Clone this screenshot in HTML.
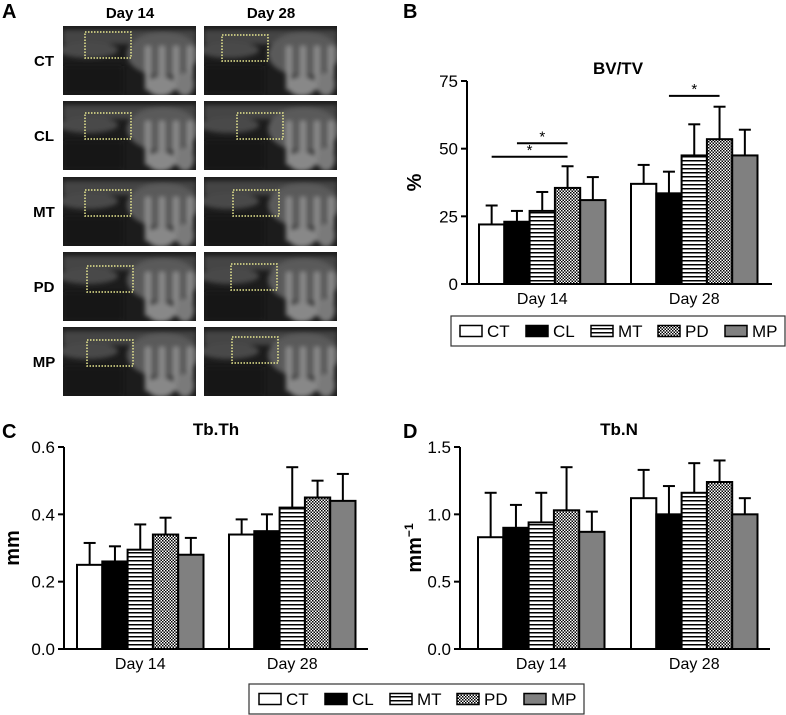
<!DOCTYPE html>
<html><head><meta charset="utf-8"><style>
body{margin:0;background:#fff;font-family:"Liberation Sans",Arial,sans-serif}
svg{display:block}
</style></head><body>
<svg id="fig" width="786" height="715" viewBox="0 0 786 715" xmlns="http://www.w3.org/2000/svg" font-family="Liberation Sans, Arial, sans-serif">
<defs>
<pattern id="stripe" width="4" height="4" patternUnits="userSpaceOnUse"><rect width="4" height="4" fill="#fff"/><rect y="0" width="4" height="1.5" fill="#000"/></pattern>
<pattern id="check" width="3" height="3" patternUnits="userSpaceOnUse"><rect width="3" height="3" fill="#fff"/><rect width="1.5" height="1.5" fill="#000"/><rect x="1.5" y="1.5" width="1.5" height="1.5" fill="#000"/></pattern>
<filter id="blur"><feGaussianBlur stdDeviation="2.5"/></filter>
<clipPath id="tileclip"><rect width="133" height="69"/></clipPath>
</defs>
<g id="panelA"></g>
<g id="panelB"></g>
<g id="panelC"></g>
<g id="panelD"></g>
<g id="legends"></g>
</svg>
<script>
const groups = ["Day 14", "Day 28"];
const seriesNames = ["CT", "CL", "MT", "PD", "MP"];
const bvtvMeans = [[22, 23, 27, 35.5, 31], [37, 33.5, 47.5, 53.5, 47.5]];
const bvtvErr = [[29, 27, 34, 43.5, 39.5], [44, 41.5, 59, 65.5, 57]];
const bvtvTicks = [0, 25, 50, 75];
const tbthMeans = [[0.25, 0.26, 0.295, 0.34, 0.28], [0.34, 0.35, 0.42, 0.45, 0.44]];
const tbthErr = [[0.315, 0.305, 0.37, 0.39, 0.33], [0.385, 0.40, 0.54, 0.50, 0.52]];
const tbthTicks = ["0.0", "0.2", "0.4", "0.6"];
const tbnMeans = [[0.83, 0.90, 0.94, 1.03, 0.87], [1.12, 1.0, 1.16, 1.24, 1.0]];
const tbnErr = [[1.16, 1.07, 1.16, 1.35, 1.02], [1.33, 1.21, 1.38, 1.40, 1.12]];
const tbnTicks = ["0.0", "0.5", "1.0", "1.5"];
const sigBars = [[0, 0, 3, 47], [0, 1, 3, 52], [1, 1, 3, 69.5]];

const NS = "http://www.w3.org/2000/svg";
const fills = ["#fff", "#000", "url(#stripe)", "url(#check)", "#808080"];
function el(tag, attrs, parent, text) {
  const e = document.createElementNS(NS, tag);
  for (const k in attrs) e.setAttribute(k, attrs[k]);
  if (text !== undefined) e.textContent = text;
  parent.appendChild(e);
  return e;
}
function chart(g, cfg) {
  const y = v => cfg.y0 - (v - cfg.vmin) / (cfg.vmax - cfg.vmin) * (cfg.y0 - cfg.y1);
  const bw = 25.3;
  const t = el("text", {x: cfg.titleX, y: cfg.titleY, "font-size": 17, "font-weight": "bold", "text-anchor": "middle"}, g, cfg.title);
  
  
  const lab = el("text", {x: cfg.panelX, y: cfg.panelY, "font-size": 20, "font-weight": "bold"}, g, cfg.panel);
  
  
  const ax = el("g", {}, g);
  
  
  el("line", {x1: cfg.ax, x2: cfg.ax, y1: cfg.y1, y2: cfg.y0, stroke: "#000", "stroke-width": 2}, ax);
  cfg.ticks.forEach(tk => {
    const yy = y(parseFloat(tk));
    el("line", {x1: cfg.ax - 6, x2: cfg.ax, y1: yy, y2: yy, stroke: "#000", "stroke-width": 2}, ax);
    const tt = el("text", {x: cfg.ax - 9, y: yy + 6, "font-size": 17, "text-anchor": "end"}, ax, tk);
    
    
  });
  const yt = el("text", {transform: `translate(${cfg.ytX},${(cfg.y0 + cfg.y1) / 2}) rotate(-90)`, "font-size": 20, "font-weight": "bold", "text-anchor": "middle"}, g, cfg.ytitle);
  
  
  if (cfg.sup) el("tspan", {"font-size": 12, dy: -8}, yt, cfg.sup);
  const xa = el("line", {x1: cfg.ax - 6, x2: cfg.axEnd, y1: cfg.y0, y2: cfg.y0, stroke: "#000", "stroke-width": 2}, g);
  
  
  groups.forEach((gn, gi) => {
    const gx = cfg.gx[gi];
    cfg.means[gi].forEach((m, si) => {
      const x = gx + si * bw;
      const top = y(m), et = y(cfg.err[gi][si]);
      const eb = el("line", {x1: x + bw / 2, x2: x + bw / 2, y1: top, y2: et, stroke: "#000", "stroke-width": 2}, g);
      
      
      el("line", {x1: x + bw / 2 - 6, x2: x + bw / 2 + 6, y1: et, y2: et, stroke: "#000", "stroke-width": 2}, g);
      const r = el("rect", {x: x, y: top, width: bw, height: cfg.y0 - top, fill: fills[si], stroke: "#000", "stroke-width": 2}, g);
      
      
    });
    const xl = el("text", {x: gx + bw * 2.5, y: cfg.y0 + 20, "font-size": 16, "text-anchor": "middle"}, g, gn);
    
    
  });
  if (cfg.sig) cfg.sig.forEach(s => {
    const gx = cfg.gx[s[0]];
    const x1 = gx + s[1] * bw + bw / 2, x2 = gx + s[2] * bw + bw / 2, yy = y(s[3]);
    const sl = el("line", {x1: x1, x2: x2, y1: yy, y2: yy, stroke: "#000", "stroke-width": 2}, g);
    
    
    const st = el("text", {x: (x1 + x2) / 2, y: yy - 2, "font-size": 15, "text-anchor": "middle"}, g, "*");
    
    
  });
}
chart(document.getElementById("panelB"), {title: "BV/TV", titleX: 618, titleY: 74, panel: "B", panelX: 403, panelY: 18,
  ax: 467, axEnd: 772, y0: 284, y1: 81, vmin: 0, vmax: 75, ticks: bvtvTicks.map(String), ytitle: "%", ytX: 421,
  gx: [479, 631], means: bvtvMeans, err: bvtvErr, sig: sigBars});
chart(document.getElementById("panelC"), {title: "Tb.Th", titleX: 216, titleY: 435, panel: "C", panelX: 2, panelY: 438,
  ax: 64, axEnd: 368, y0: 649, y1: 447, vmin: 0, vmax: 0.6, ticks: tbthTicks, ytitle: "mm", ytX: 19,
  gx: [77, 229], means: tbthMeans, err: tbthErr});
chart(document.getElementById("panelD"), {title: "Tb.N", titleX: 619, titleY: 435, panel: "D", panelX: 403, panelY: 438,
  ax: 460, axEnd: 770, y0: 649, y1: 447, vmin: 0, vmax: 1.5, ticks: tbnTicks, ytitle: "mm", sup: "−1", ytX: 421,
  gx: [478, 631], means: tbnMeans, err: tbnErr});

function legend(parent, x, y, w, h, sx) {
  const g = el("g", {}, parent);
  
  
  el("rect", {x: x, y: y, width: w, height: h, fill: "#fff", stroke: "#333", "stroke-width": 1.2}, g);
  seriesNames.forEach((n, i) => {
    const e = el("g", {}, g);
    
    
    el("rect", {x: sx[i], y: y + h / 2 - 5.5, width: 22, height: 11, fill: fills[i], stroke: "#000", "stroke-width": 1.5}, e);
    el("text", {x: sx[i] + 27, y: y + h / 2 + 6, "font-size": 17}, e, n);
  });
}
const lg = document.getElementById("legends");
legend(lg, 451, 316, 334, 30, [460, 526, 591, 658, 725]);
legend(lg, 249, 684, 335, 30, [259, 325, 390, 457, 524]);

// Panel A: CT image tiles
const A = document.getElementById("panelA");
el("text", {x: 2, y: 18, "font-size": 20, "font-weight": "bold"}, A, "A");
const colX = [63, 204], rowY = [26, 101, 177, 252, 327];
const rows = ["CT", "CL", "MT", "PD", "MP"];
const roi = [[[85, 32], [222, 35]], [[85, 113], [237, 113]], [[85, 190], [233, 190]], [[87, 266], [231, 264]], [[87, 340], [232, 337]]];
["Day 14", "Day 28"].forEach((d, ci) => {
  const t = el("text", {x: colX[ci] + 67, y: 18, "font-size": 15, "font-weight": "bold", "text-anchor": "middle"}, A, d);
  
  
});
rows.forEach((r, ri) => {
  const t = el("text", {x: 44, y: rowY[ri] + 40, "font-size": 15, "font-weight": "bold", "text-anchor": "middle"}, A, r);
  
  
  colX.forEach((cx, ci) => {
    const tile = el("g", {transform: `translate(${cx},${rowY[ri]})`, "clip-path": "url(#tileclip)"}, A);
    
    
    el("rect", {width: 133, height: 69, fill: "#1c1c1c"}, tile);
    const bl = el("g", {filter: "url(#blur)"}, tile);
    el("rect", {x: 0, y: 4, width: 133, height: 14, fill: "#444"}, bl);
    el("ellipse", {cx: 25, cy: 24, rx: 30, ry: 8, fill: "#4a4a4a"}, bl);
    el("ellipse", {cx: 100, cy: 28, rx: 36, ry: 22, fill: "#5a5a5a"}, bl);
    [82, 96, 110, 124].forEach(tx => {
      el("rect", {x: tx, y: 20, width: 6, height: 44, fill: "#8a8a8a"}, bl);
    });
    el("ellipse", {cx: 98, cy: 60, rx: 14, ry: 10, fill: "#888"}, bl);
    el("ellipse", {cx: 122, cy: 58, rx: 9, ry: 12, fill: "#7a7a7a"}, bl);
    el("rect", {x: 0, y: 40, width: 60, height: 29, fill: "#161616"}, bl);
    const rx = roi[ri][ci][0] - cx, ry = roi[ri][ci][1] - rowY[ri];
    el("rect", {x: rx, y: ry, width: 46, height: 26, fill: "none", stroke: "#e8e890", "stroke-width": 1.5, "stroke-dasharray": "1.5 1.5"}, tile);
  });
});
</script>
</body></html>
